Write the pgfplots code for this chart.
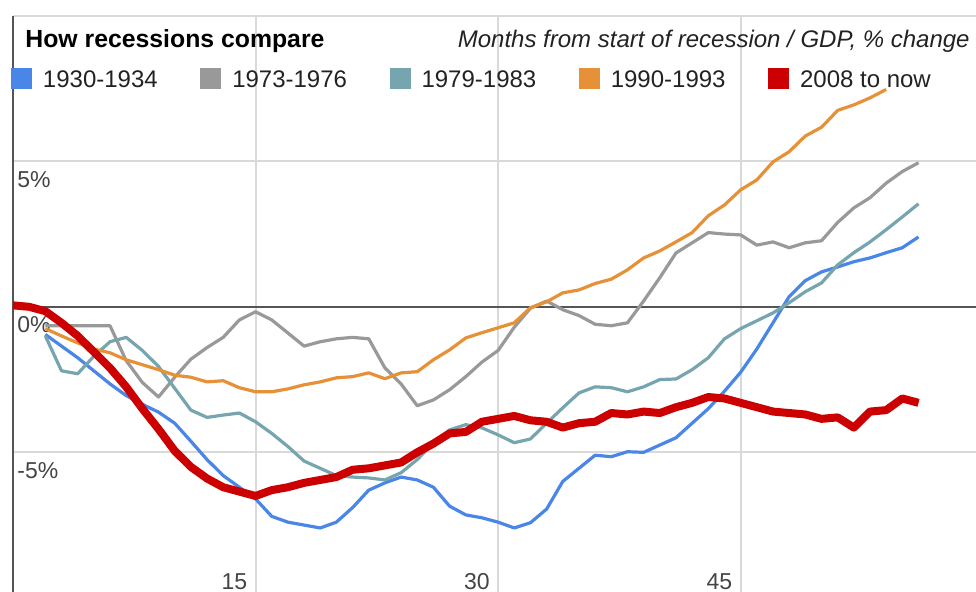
\documentclass[border=0pt]{standalone}
\usepackage{fontspec}
\setmainfont{Liberation Sans}
\usepackage{pgfplots}
\pgfplotsset{compat=1.18}
\usepackage{pgfplotstable}

\definecolor{cA}{HTML}{4A86E8}
\definecolor{cB}{HTML}{999999}
\definecolor{cC}{HTML}{76A5AF}
\definecolor{cD}{HTML}{E69138}
\definecolor{cE}{HTML}{CC0000}
\definecolor{gridgray}{HTML}{D9D9D9}
\definecolor{axisgray}{HTML}{555555}
\definecolor{labelgray}{HTML}{444444}
\definecolor{textdark}{HTML}{222222}

% tick labels above the lines (the 0% label hides the start of the series)
\pgfplotsset{
  layers/labelsontop/.define layer set={
    axis background,axis grid,axis ticks,axis lines,pre main,main,
    axis tick labels,axis descriptions,axis foreground}{},
}

% GDP, % change vs months from start of recession
\pgfplotstableread{
m v
2 -0.95
3 -1.35
4 -1.75
5 -2.2
6 -2.65
7 -3.05
8 -3.35
9 -3.62
10 -4.0
11 -4.62
12 -5.25
13 -5.8
14 -6.2
15 -6.6
16 -7.2
17 -7.4
18 -7.5
19 -7.6
20 -7.4
21 -6.9
22 -6.3
23 -6.05
24 -5.85
25 -5.95
26 -6.2
27 -6.85
28 -7.15
29 -7.25
30 -7.4
31 -7.6
32 -7.42
33 -6.95
34 -6.0
35 -5.55
36 -5.1
37 -5.15
38 -4.98
39 -5.0
40 -4.75
41 -4.5
42 -4.0
43 -3.5
44 -2.9
45 -2.25
46 -1.45
47 -0.55
48 0.35
49 0.9
50 1.2
51 1.37
52 1.55
53 1.68
54 1.86
55 2.03
56 2.4
}\tblA

\pgfplotstableread{
m v
2 -0.65
3 -0.65
4 -0.65
5 -0.65
6 -0.65
7 -1.85
8 -2.6
9 -3.1
10 -2.42
11 -1.8
12 -1.4
13 -1.05
14 -0.45
15 -0.17
16 -0.45
17 -0.9
18 -1.35
19 -1.2
20 -1.1
21 -1.05
22 -1.1
23 -2.1
24 -2.65
25 -3.4
26 -3.2
27 -2.85
28 -2.4
29 -1.9
30 -1.5
31 -0.7
32 -0.05
33 0.2
34 -0.1
35 -0.3
36 -0.6
37 -0.65
38 -0.55
39 0.2
40 1.0
41 1.85
42 2.2
43 2.55
44 2.5
45 2.47
46 2.12
47 2.23
48 2.03
49 2.2
50 2.27
51 2.9
52 3.4
53 3.75
54 4.25
55 4.65
56 4.95
}\tblB

\pgfplotstableread{
m v
2 -1.0
3 -2.2
4 -2.3
5 -1.7
6 -1.2
7 -1.05
8 -1.5
9 -2.05
10 -2.8
11 -3.55
12 -3.8
13 -3.72
14 -3.65
15 -3.95
16 -4.35
17 -4.8
18 -5.3
19 -5.55
20 -5.8
21 -5.85
22 -5.88
23 -5.95
24 -5.7
25 -5.25
26 -4.67
27 -4.23
28 -4.05
29 -4.16
30 -4.4
31 -4.67
32 -4.54
33 -4.0
34 -3.47
35 -2.96
36 -2.75
37 -2.78
38 -2.92
39 -2.75
40 -2.5
41 -2.48
42 -2.16
43 -1.75
44 -1.1
45 -0.75
46 -0.48
47 -0.21
48 0.14
49 0.52
50 0.82
51 1.44
52 1.86
53 2.23
54 2.65
55 3.09
56 3.54
}\tblC

\pgfplotstableread{
m v
2 -0.75
3 -1.0
4 -1.24
5 -1.45
6 -1.58
7 -1.82
8 -1.99
9 -2.16
10 -2.35
11 -2.42
12 -2.58
13 -2.54
14 -2.78
15 -2.92
16 -2.92
17 -2.82
18 -2.68
19 -2.58
20 -2.44
21 -2.4
22 -2.27
23 -2.47
24 -2.27
25 -2.23
26 -1.82
27 -1.48
28 -1.07
29 -0.89
30 -0.72
31 -0.55
32 -0.03
33 0.17
34 0.48
35 0.58
36 0.8
37 0.95
38 1.27
39 1.68
40 1.92
41 2.23
42 2.55
43 3.13
44 3.5
45 4.02
46 4.36
47 4.98
48 5.33
49 5.87
50 6.17
51 6.75
52 6.94
53 7.18
54 7.47
}\tblD

\pgfplotstableread{
m v
0 0.05
1 0.0
2 -0.15
3 -0.55
4 -1.0
5 -1.55
6 -2.1
7 -2.75
8 -3.5
9 -4.2
10 -4.95
11 -5.5
12 -5.9
13 -6.2
14 -6.35
15 -6.5
16 -6.3
17 -6.2
18 -6.05
19 -5.95
20 -5.85
21 -5.6
22 -5.55
23 -5.45
24 -5.35
25 -5.0
26 -4.7
27 -4.35
28 -4.3
29 -3.95
30 -3.85
31 -3.75
32 -3.9
33 -3.95
34 -4.15
35 -4.0
36 -3.95
37 -3.65
38 -3.7
39 -3.6
40 -3.65
41 -3.45
42 -3.3
43 -3.1
44 -3.15
45 -3.3
46 -3.45
47 -3.6
48 -3.65
49 -3.7
50 -3.85
51 -3.8
52 -4.15
53 -3.6
54 -3.55
55 -3.15
56 -3.3
}\tblE

\begin{document}
\begin{tikzpicture}[font=\fontsize{12}{14}\selectfont]
\begin{axis}[
  set layers=labelsontop,
  at={(6.5pt,-296pt)}, anchor=south west,
  x=8.085pt, y=14.55pt,
  xmin=0, xmax=59.6, ymin=-9.8, ymax=10,
  axis line style={draw=none},
  major tick length=0pt,
  xtick={15,30,45}, xticklabels={15,30,45},
  ytick={-5,0,5,10}, yticklabels={-5\%,0\%,5\%,{}},
  grid=major,
  grid style={gridgray, line width=1pt},
  tick label style={font=\fontsize{11.5}{13}\selectfont, text=labelgray, inner sep=0pt},
  xticklabel style={anchor=base east, xshift=-4pt, yshift=1pt},
  yticklabel style={anchor=base west, xshift=2pt, yshift=-13pt, fill=white},
  clip=false,
  legend columns=5,
  legend image code/.code={\fill[#1, draw=none] (0pt,-1pt) rectangle (10.5pt,9.5pt);},
  legend style={
    at={(axis cs:-0.124,8.26)}, anchor=north west,
    draw=none, fill=none, inner sep=0pt, outer sep=0pt,
    font=\fontsize{12}{14}\selectfont, text=textdark,
    cells={anchor=base west, inner sep=0pt},
    /tikz/every odd column/.append style={column sep=3.5pt},
    /tikz/every even column/.append style={column sep=19.25pt},
  },
]
\draw[axisgray, line width=1pt] (axis cs:0,0) -- (axis cs:59.6,0);
\draw[axisgray, line width=1.2pt] (axis cs:0,-9.8) -- (axis cs:0,10);

\addplot[color=cA, line width=1.6pt, line join=round] table[x=m, y=v] {\tblA};
\addlegendentry{1930-1934}
\addplot[color=cB, line width=1.6pt, line join=round] table[x=m, y=v] {\tblB};
\addlegendentry{1973-1976}
\addplot[color=cC, line width=1.6pt, line join=round] table[x=m, y=v] {\tblC};
\addlegendentry{1979-1983}
\addplot[color=cD, line width=1.6pt, line join=round] table[x=m, y=v] {\tblD};
\addlegendentry{1990-1993}
\addplot[color=cE, line width=4pt, line join=round] table[x=m, y=v] {\tblE};
\addlegendentry{2008 to now}
\end{axis}

\node[anchor=base west, inner sep=0pt, font=\bfseries\fontsize{12.4}{14}\selectfont]
  at (12.5pt,-23.9pt) {How recessions compare};
\node[anchor=base east, inner sep=0pt, text=textdark, font=\itshape\fontsize{12}{14}\selectfont]
  at (485pt,-23.6pt) {Months from start of recession / GDP, \% change};

\pgfresetboundingbox
\useasboundingbox (0,0) rectangle (488pt,-296pt);
\end{tikzpicture}
\end{document}
